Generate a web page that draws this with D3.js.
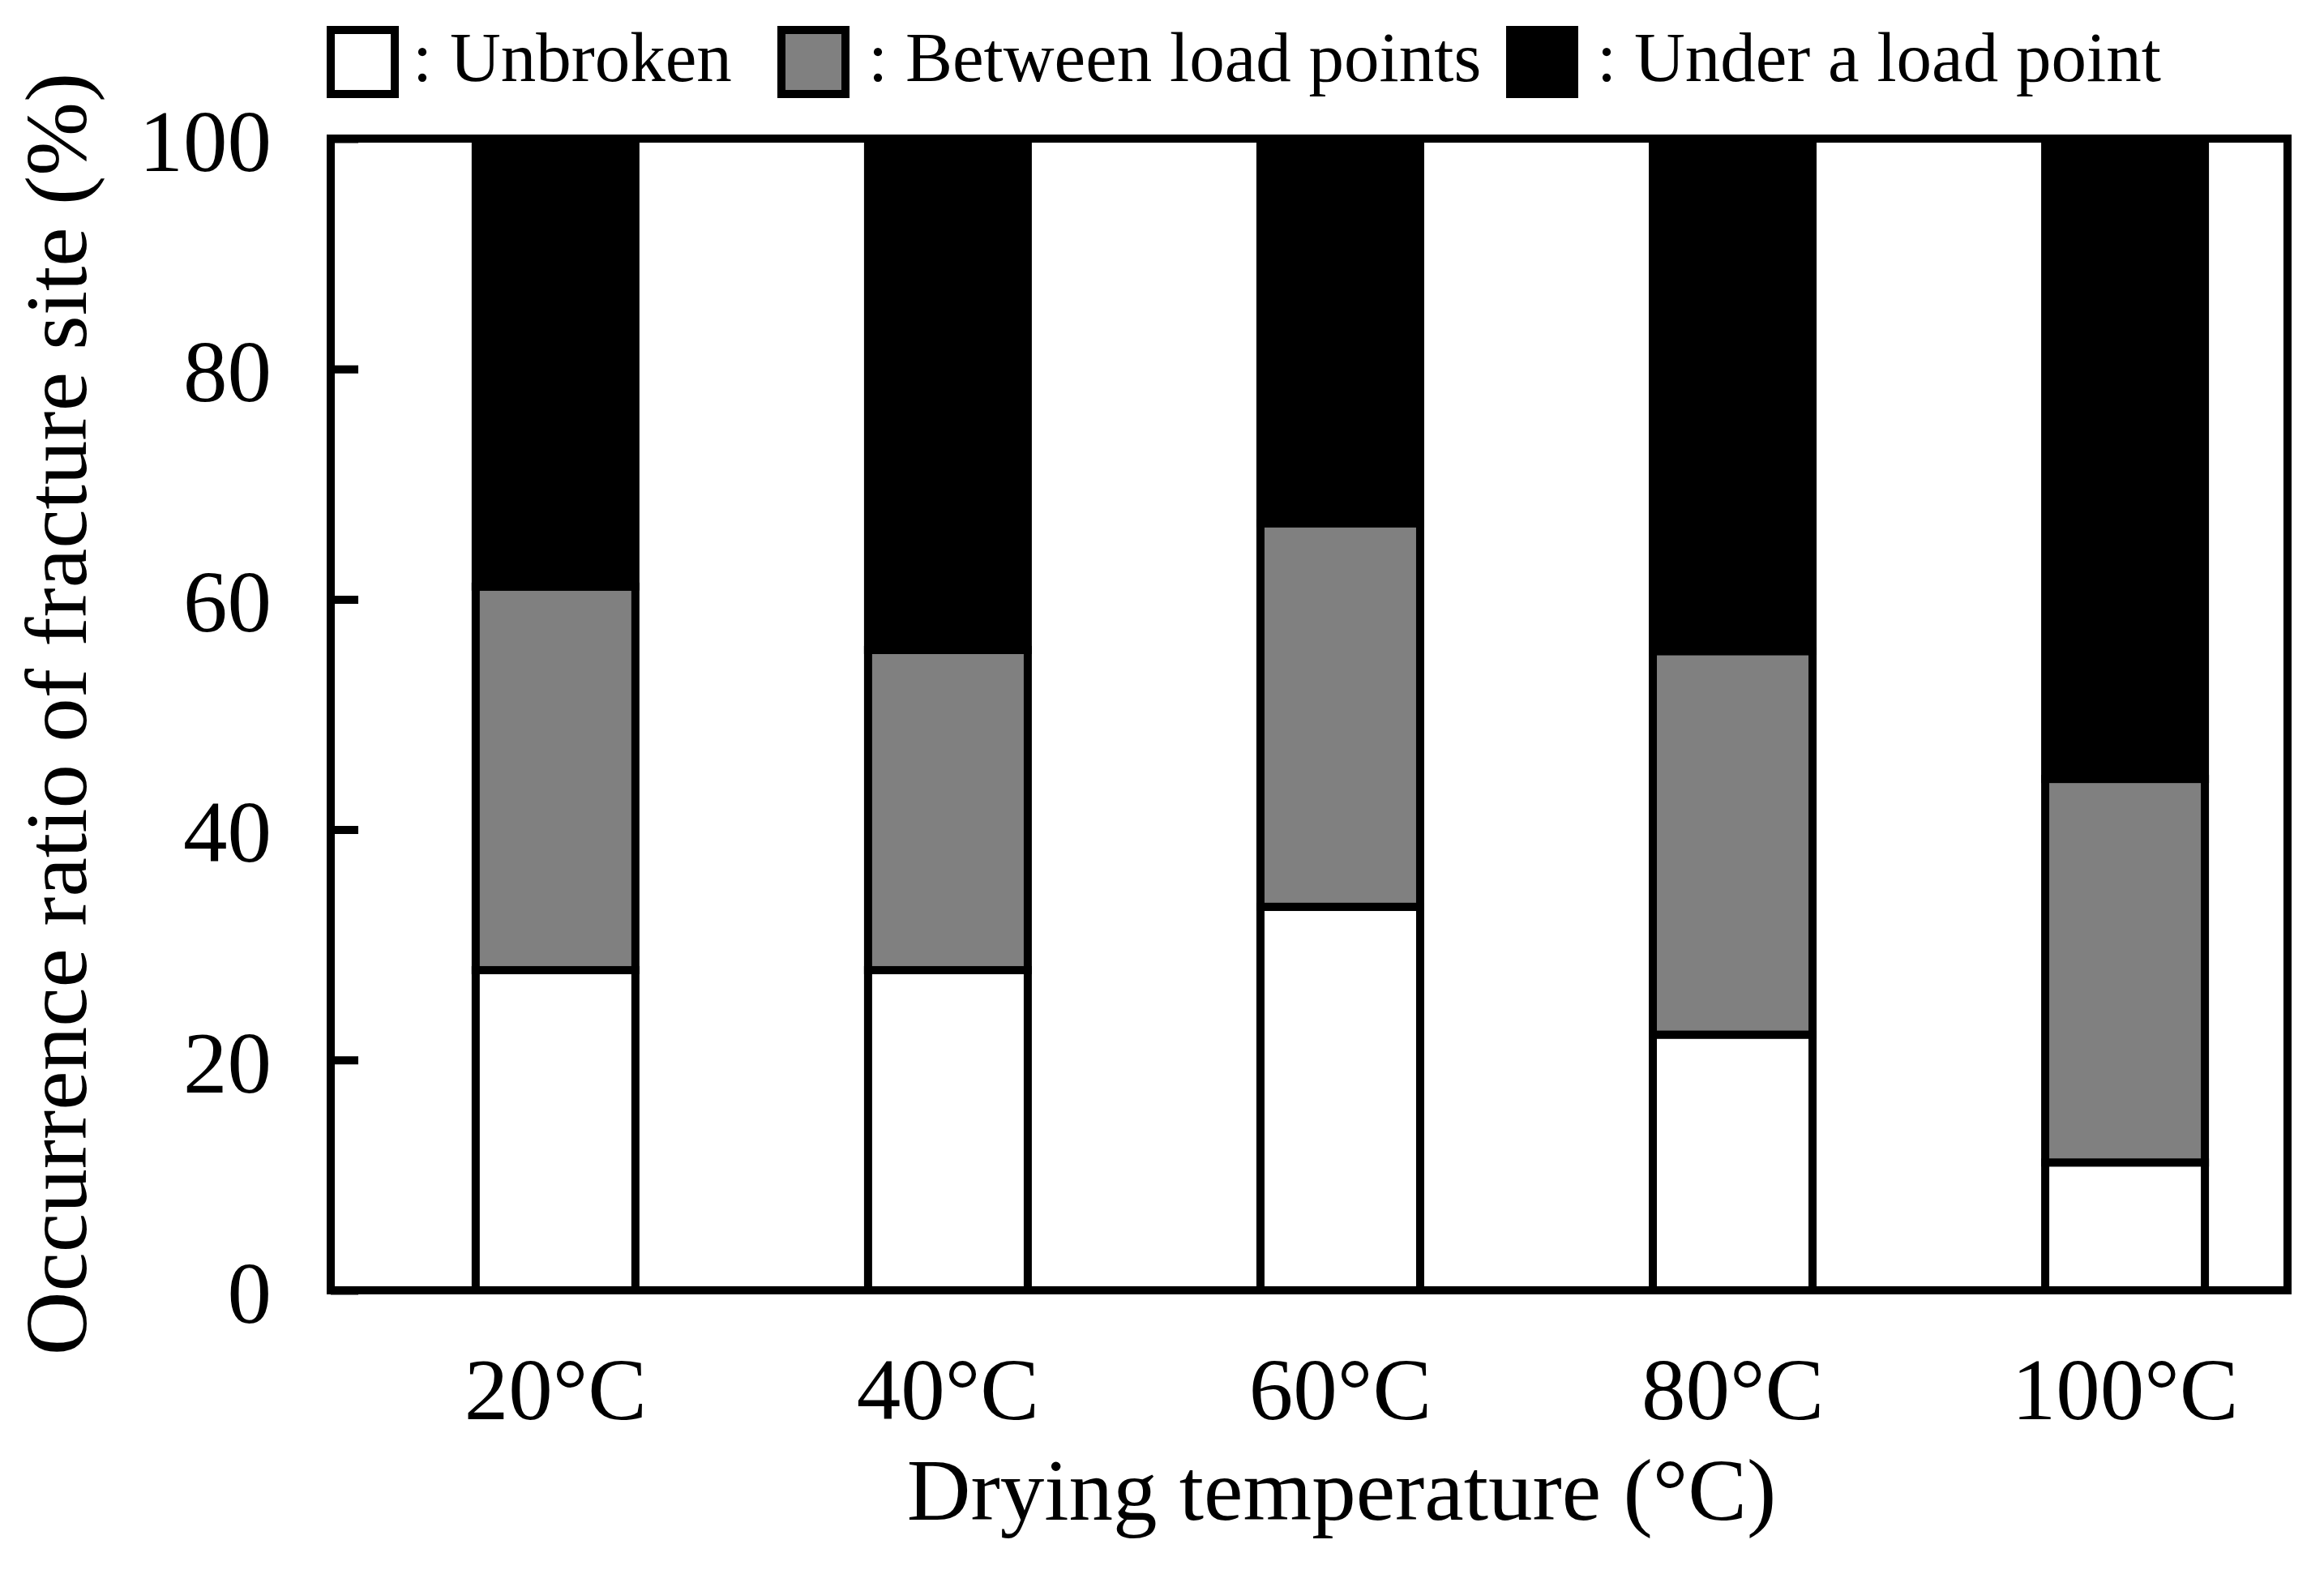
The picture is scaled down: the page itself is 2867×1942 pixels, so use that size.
<!DOCTYPE html>
<html>
<head>
<meta charset="utf-8">
<script src="https://cdn.jsdelivr.net/npm/d3@7"></script>
<style>
  body { margin: 0; background: #fff; }
  text { font-family: "Liberation Serif", "Times New Roman", serif; fill: #000; }
</style>
</head>
<body>
<svg id="chart" width="2867" height="1942"></svg>
<script>
// data
var temps = ['20°C', '40°C', '60°C', '80°C', '100°C'];
var unbroken = [27.8, 27.8, 33.3, 22.2, 11.1];
var betweenLoad = [33.3, 27.8, 33.3, 33.3, 33.3];
var underLoad = [38.9, 44.4, 33.4, 44.5, 55.6];
var yTicks = [0, 20, 40, 60, 80, 100];

var seriesKeys = ['unbroken', 'between', 'under'];
var seriesLabels = [': Unbroken', ': Between load points', ': Under a load point'];
var seriesFill = ['#ffffff', '#808080', '#000000'];

var rows = temps.map(function(t, i) {
  return { temp: t, unbroken: unbroken[i], between: betweenLoad[i], under: underLoad[i] };
});

var plot = { left: 408, right: 2822, top: 171, bottom: 1592 };
var lw = 10;

var svg = d3.select('#chart');

var x = d3.scaleBand()
  .domain(temps)
  .range([plot.left, plot.right])
  .paddingInner(0.593)
  .paddingOuter(0.29)
  .align(0.637);

var y = d3.scaleLinear()
  .domain([0, 100])
  .range([plot.bottom, plot.top]);

var stacked = d3.stack().keys(seriesKeys)(rows);

// bars
svg.append('g')
  .selectAll('g')
  .data(stacked).enter()
  .append('g')
  .attr('fill', function(d, i) { return seriesFill[i]; })
  .selectAll('rect')
  .data(function(d) { return d; }).enter()
  .append('rect')
  .attr('x', function(d) { return x(d.data.temp); })
  .attr('width', x.bandwidth())
  .attr('y', function(d) { return y(d[1]); })
  .attr('height', function(d) { return y(d[0]) - y(d[1]); })
  .attr('stroke', '#000')
  .attr('stroke-width', lw);

// y axis (inner ticks)
var yAxis = svg.append('g')
  .attr('transform', 'translate(' + plot.left + ',0)')
  .call(d3.axisLeft(y).tickValues(yTicks).tickSizeInner(-34).tickSizeOuter(0).tickPadding(73));
yAxis.select('.domain').remove();
yAxis.selectAll('line').attr('stroke', '#000').attr('stroke-width', lw);
yAxis.selectAll('text')
  .attr('font-size', 109)
  .attr('dy', '0.36em')
  .style('font-family', '"Liberation Serif", "Times New Roman", serif');

// x axis labels
var xAxis = svg.append('g')
  .attr('transform', 'translate(0,' + plot.bottom + ')')
  .call(d3.axisBottom(x).tickSize(0).tickPadding(159));
xAxis.select('.domain').remove();
xAxis.selectAll('text')
  .attr('font-size', 109)
  .attr('dy', 0)
  .style('font-family', '"Liberation Serif", "Times New Roman", serif');

// frame
svg.append('rect')
  .attr('x', plot.left)
  .attr('y', plot.top)
  .attr('width', plot.right - plot.left)
  .attr('height', plot.bottom - plot.top)
  .attr('fill', 'none')
  .attr('stroke', '#000')
  .attr('stroke-width', lw);

// axis titles
svg.append('text')
  .attr('x', 1655)
  .attr('y', 1875)
  .attr('text-anchor', 'middle')
  .attr('font-size', 109)
  .text('Drying temperature (°C)');

svg.append('text')
  .attr('transform', 'translate(106,881) rotate(-90)')
  .attr('text-anchor', 'middle')
  .attr('font-size', 109)
  .text('Occurrence ratio of fracture site (%)');

// legend
var legendBox = [408, 964, 1863];
var legendText = [509, 1071, 1970];
var legend = svg.append('g');
seriesKeys.forEach(function(k, i) {
  legend.append('rect')
    .attr('x', legendBox[i])
    .attr('y', 37)
    .attr('width', 79)
    .attr('height', 79)
    .attr('fill', seriesFill[i])
    .attr('stroke', '#000')
    .attr('stroke-width', lw);
  legend.append('text')
    .attr('x', legendText[i])
    .attr('y', 100)
    .attr('font-size', 87)
    .text(seriesLabels[i]);
});
</script>
</body>
</html>
